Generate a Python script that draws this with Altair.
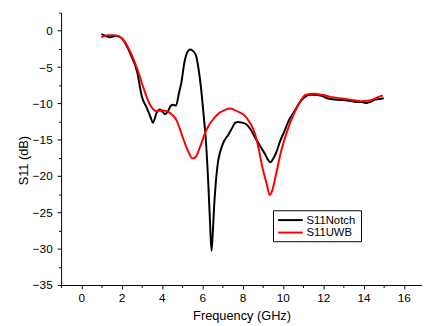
import altair as alt
import pandas as pd

freq_notch = [1.0, 1.2, 1.43, 1.7, 2.0, 2.2, 2.44, 2.77, 3.0, 3.25, 3.45, 3.55, 3.74, 3.9, 4.05, 4.15, 4.3, 4.45, 4.55, 4.7, 4.85, 4.96, 5.12, 5.25, 5.4, 5.55, 5.69, 5.82, 5.94, 6.06, 6.18, 6.3, 6.38, 6.46, 6.53, 6.59, 6.67, 6.75, 6.99, 7.32, 7.5, 7.64, 7.8, 7.97, 8.2, 8.4, 8.62, 8.9, 9.1, 9.25, 9.38, 9.5, 9.68, 9.85, 10.08, 10.3, 10.57, 10.8, 11.06, 11.38, 11.7, 12.0, 12.2, 12.7, 13.2, 13.6, 13.9, 14.15, 14.35, 14.55, 14.8, 15.0]
s11_notch = [-0.45, -0.7, -0.9, -0.7, -1.0, -1.8, -3.2, -5.65, -9.0, -10.6, -12.0, -12.65, -11.3, -10.85, -11.2, -11.5, -11.1, -10.3, -10.2, -10.3, -8.5, -7.2, -4.3, -3.0, -2.57, -2.8, -3.4, -5.3, -7.9, -11.3, -15.1, -21.0, -26.0, -30.3, -27.5, -24.2, -21.0, -18.75, -15.8, -14.2, -13.3, -12.65, -12.55, -12.65, -12.9, -13.6, -14.7, -16.0, -16.9, -17.7, -18.1, -17.7, -16.7, -15.3, -13.8, -12.3, -11.1, -10.0, -9.17, -8.8, -8.85, -9.04, -9.3, -9.5, -9.6, -9.8, -9.8, -9.95, -9.8, -9.5, -9.4, -9.3]

freq_uwb = [1.0, 1.3, 1.6, 1.79, 2.12, 2.44, 2.77, 3.09, 3.41, 3.74, 4.07, 4.39, 4.72, 5.04, 5.3, 5.53, 5.7, 5.85, 6.18, 6.67, 7.16, 7.4, 7.56, 7.9, 8.13, 8.35, 8.62, 8.78, 9.0, 9.19, 9.35, 9.47, 9.6, 9.92, 10.33, 10.73, 11.14, 11.55, 12.0, 12.36, 13.0, 13.5, 13.85, 14.3, 14.6, 14.96]
s11_uwb = [-0.9, -0.6, -0.6, -0.7, -1.35, -2.95, -5.2, -7.9, -10.2, -11.07, -10.98, -11.3, -12.3, -14.7, -16.6, -17.6, -17.3, -16.3, -13.8, -11.75, -10.85, -10.7, -10.85, -11.3, -11.75, -12.6, -14.2, -16.0, -19.0, -21.0, -22.6, -22.0, -20.55, -16.5, -12.9, -10.4, -8.8, -8.67, -8.85, -9.1, -9.35, -9.55, -9.7, -9.6, -9.27, -8.9]

series_names = ["S11Notch", "S11UWB"]
series_colors = ["#000000", "#ff0000"]

x_ticks = list(range(-1, 17))
y_ticks = [-35 + 2.5 * i for i in range(16)]

df = pd.concat([
    pd.DataFrame({"f": freq_notch, "s": s11_notch, "series": series_names[0]}),
    pd.DataFrame({"f": freq_uwb, "s": s11_uwb, "series": series_names[1]}),
])

FONT = "Liberation Sans"

lines = alt.Chart(df).mark_line(strokeWidth=2, interpolate="monotone").encode(
    x=alt.X("f:Q", title="Frequency (GHz)",
            scale=alt.Scale(domain=[-1, 16.9], nice=False, zero=False),
            axis=alt.Axis(values=x_ticks, grid=False,
                          labelExpr="datum.value % 2 === 0 ? datum.label : ''",
                          tickSize={"condition": {"test": "datum.value % 2 === 0", "value": 4}, "value": 2.5},
                          labelPadding=4, titlePadding=6)),
    y=alt.Y("s:Q", title="S11 (dB)",
            scale=alt.Scale(domain=[-35, 2.5], nice=False, zero=False),
            axis=alt.Axis(values=y_ticks, grid=False,
                          labelExpr="datum.value % 5 === 0 ? datum.label : ''",
                          tickSize={"condition": {"test": "datum.value % 5 === 0", "value": 4}, "value": 2.5},
                          labelPadding=5, titleX=-31, titleY=150)),
    color=alt.Color("series:N",
                    scale=alt.Scale(domain=series_names, range=series_colors),
                    legend=None),
)

one = pd.DataFrame({"k": [0]})
box = alt.Chart(one).mark_rect(fill="white", stroke="#000000", strokeWidth=1).encode(
    x=alt.value(216), x2=alt.value(305.5), y=alt.value(201.5), y2=alt.value(233)
)
legend_layers = [box]
row_y = [211.0, 223.7]
for name, col, yy in zip(series_names, series_colors, row_y):
    legend_layers.append(
        alt.Chart(one).mark_rule(color=col, strokeWidth=2).encode(
            x=alt.value(220.7), x2=alt.value(245.7), y=alt.value(yy))
    )
    legend_layers.append(
        alt.Chart(one).mark_text(text=name, align="left", baseline="middle", font=FONT,
                                 fontSize=11.5, color="#000000").encode(
            x=alt.value(249.5), y=alt.value(yy + 0.5))
    )

chart = alt.layer(lines, *legend_layers).properties(
    width=367, height=277,
    autosize=alt.AutoSizeParams(type="none"),
    padding={"left": 54, "top": 2, "right": 0, "bottom": 38},
).configure_view(stroke=None).configure_axis(
    domainColor="#000000", tickColor="#000000", labelColor="#000000", titleColor="#000000",
    labelFont=FONT, titleFont=FONT, labelFontSize=12, titleFontSize=13, titleFontWeight="normal",
    domainWidth=1, tickWidth=1,
)

chart.save("out.html", embed_options={"renderer": "svg", "actions": False})
